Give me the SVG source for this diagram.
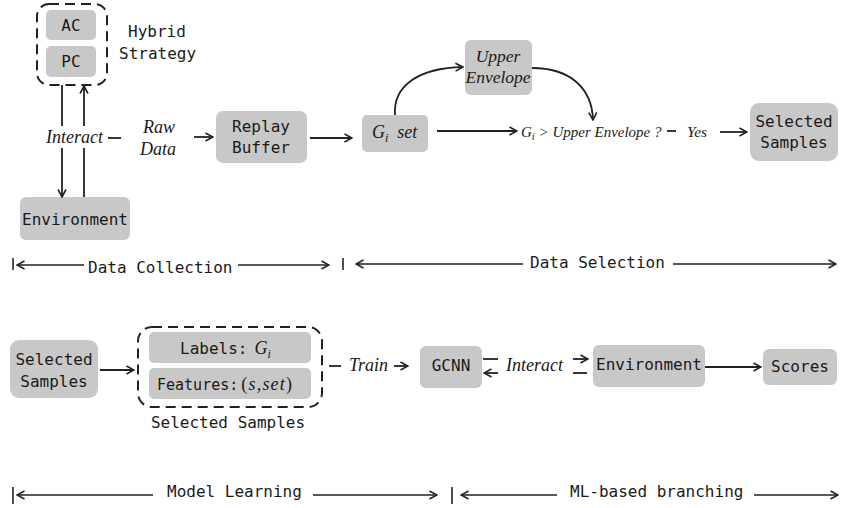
<svg xmlns="http://www.w3.org/2000/svg" width="848" height="508" viewBox="0 0 848 508">
  <defs>
    <marker id="arr" viewBox="0 0 10 10" refX="9" refY="5" markerWidth="10" markerHeight="10" markerUnits="userSpaceOnUse" orient="auto-start-reverse">
      <path d="M1.5,1 L9,5 L1.5,9" fill="none" stroke="#222" stroke-width="1.6" stroke-linejoin="miter"/>
    </marker>
  </defs>
  <style>
    .box { fill: #c8c8c8; }
    .dash { fill: none; stroke: #222; stroke-width: 2; stroke-dasharray: 10 6; }
    .mono { font-family: "DejaVu Sans Mono", "Liberation Mono", monospace; font-size: 16px; fill: #1a1a1a; }
    .it { font-family: "Liberation Serif", "DejaVu Serif", serif; font-style: italic; font-size: 18px; fill: #1a1a1a; }
    .sub { font-size: 12px; }
    .mid { text-anchor: middle; }
    .ln { fill: none; stroke: #222; stroke-width: 1.8; }
    .ar { fill: none; stroke: #222; stroke-width: 1.8; marker-end: url(#arr); }
    .arl { fill: none; stroke: #222; stroke-width: 1.4; marker-start: url(#arr); }
    .arr { fill: none; stroke: #222; stroke-width: 1.4; marker-end: url(#arr); }
    .tick { fill: none; stroke: #222; stroke-width: 1.6; }
  </style>
  <rect width="848" height="508" fill="#ffffff"/>

  <!-- Hybrid strategy group -->
  <g id="hybrid">
    <rect class="dash" x="37" y="4" width="70" height="81" rx="12"/>
    <text class="mono" x="128" y="37">Hybrid</text>
    <text class="mono" x="119" y="59">Strategy</text>
  </g>
  <g id="ac">
    <rect class="box" x="46" y="10" width="50" height="30" rx="5"/>
    <text class="mono mid" x="71" y="31">AC</text>
  </g>
  <g id="pc">
    <rect class="box" x="46" y="46" width="50" height="31" rx="5"/>
    <text class="mono mid" x="71" y="67">PC</text>
  </g>
  <g id="environment-top">
    <rect class="box" x="20" y="197" width="110" height="43" rx="6"/>
    <text class="mono mid" x="75" y="225">Environment</text>
  </g>
  <g id="replay-buffer">
    <rect class="box" x="216" y="111" width="91" height="52" rx="7"/>
    <text class="mono mid" x="261" y="132">Replay</text>
    <text class="mono mid" x="261" y="153">Buffer</text>
  </g>
  <g id="gi-set">
    <rect class="box" x="362" y="115" width="66" height="37" rx="5"/>
    <text class="it" x="372" y="138">G<tspan class="sub" dy="4">i</tspan><tspan dy="-4" dx="9">set</tspan></text>
  </g>
  <g id="upper-envelope">
    <rect class="box" x="465" y="40" width="67" height="55" rx="6"/>
    <text class="it mid" x="498" y="62" style="font-size:17.5px">Upper</text>
    <text class="it mid" x="498" y="83" style="font-size:17.5px">Envelope</text>
  </g>
  <g id="condition">
    <text class="it" x="521" y="137" style="font-size:15px">G<tspan style="font-size:10.5px" dy="3">i</tspan><tspan dy="-3"> &gt; Upper Envelope ?</tspan></text>
  </g>
  <g id="selected-samples-top">
    <rect class="box" x="750" y="103" width="88" height="58" rx="9"/>
    <text class="mono mid" x="794" y="127">Selected</text>
    <text class="mono mid" x="794" y="148">Samples</text>
  </g>

  <!-- Labels on the data collection flow -->
  <g id="labels-top">
    <text class="it" x="46" y="143">Interact</text>
    <text class="it mid" x="159" y="133">Raw</text>
    <text class="it mid" x="158" y="155">Data</text>
    <text class="it" x="687" y="137" style="font-size:15.5px">Yes</text>
  </g>

  <!-- Bottom row nodes -->
  <g id="selected-samples-left">
    <rect class="box" x="10" y="340" width="88" height="58" rx="9"/>
    <text class="mono mid" x="54" y="365">Selected</text>
    <text class="mono mid" x="54" y="387">Samples</text>
  </g>
  <g id="sample-group">
    <rect class="dash" x="138" y="327" width="184" height="80" rx="14"/>
    <text class="mono mid" x="228" y="428">Selected Samples</text>
  </g>
  <g id="labels">
    <rect class="box" x="149" y="332" width="162" height="31" rx="5"/>
    <text class="mono" x="180" y="354">Labels:<tspan class="it" dx="7">G</tspan><tspan class="it sub" dy="4">i</tspan></text>
  </g>
  <g id="features">
    <rect class="box" x="149" y="368" width="162" height="31" rx="5"/>
    <text class="mono" x="157" y="390" style="font-size:15px">Features:<tspan class="it" dx="3" letter-spacing="1.2"><tspan style="font-style:normal">(</tspan>s,set<tspan style="font-style:normal">)</tspan></tspan></text>
  </g>
  <g id="gcnn">
    <rect class="box" x="420" y="346" width="62" height="42" rx="6"/>
    <text class="mono mid" x="451" y="371">GCNN</text>
  </g>
  <g id="environment-bottom">
    <rect class="box" x="593" y="345" width="112" height="42" rx="6"/>
    <text class="mono mid" x="649" y="370">Environment</text>
  </g>
  <g id="scores">
    <rect class="box" x="763" y="349" width="74" height="36" rx="6"/>
    <text class="mono mid" x="800" y="372">Scores</text>
  </g>
  <g id="labels-bottom">
    <text class="it" x="349" y="371">Train</text>
    <text class="it" x="506" y="371">Interact</text>
  </g>

  <!-- Phase captions -->
  <g id="phases">
    <text class="mono" x="88" y="273">Data Collection</text>
    <text class="mono" x="530" y="268">Data Selection</text>
    <text class="mono" x="167" y="497">Model Learning</text>
    <text class="mono" x="570" y="497">ML-based branching</text>
  </g>

  <g id="connectors">
    <!-- policy / environment interaction -->
    <line class="ln" x1="62" y1="85" x2="62" y2="126"/>
    <line class="ar" x1="62" y1="148" x2="62" y2="197"/>
    <line class="ln" x1="84" y1="197" x2="84" y2="148"/>
    <line class="ar" x1="84" y1="126" x2="84" y2="86"/>
    <line class="ln" x1="108" y1="138" x2="121" y2="138"/>
    <line class="ar" x1="194" y1="137" x2="213" y2="137"/>
    <line class="ar" x1="310" y1="138" x2="352" y2="138"/>
    <line class="ar" x1="437" y1="131" x2="517" y2="131"/>
    <path class="ar" d="M395,115 C393,86 418,68 463,67"/>
    <path class="ar" d="M532,68 C570,68 592,88 593,120"/>
    <line class="ln" x1="667" y1="131" x2="676" y2="131"/>
    <line class="ar" x1="720" y1="132" x2="747" y2="132"/>

    <!-- bottom row flow -->
    <line class="ar" x1="100" y1="370" x2="134" y2="370"/>
    <line class="ln" x1="329" y1="366" x2="341" y2="366"/>
    <line class="ar" x1="394" y1="366" x2="408" y2="366"/>
    <line class="ln" x1="483" y1="359" x2="498" y2="359"/>
    <line class="ar" x1="498" y1="373" x2="484" y2="373"/>
    <line class="ar" x1="573" y1="359" x2="588" y2="359"/>
    <line class="ln" x1="573" y1="373" x2="587" y2="373"/>
    <line class="ar" x1="705" y1="367" x2="761" y2="367"/>

    <!-- phase brackets -->
    <line class="tick" x1="13" y1="258" x2="13" y2="270"/>
    <line class="arl" x1="17" y1="265" x2="84" y2="265"/>
    <line class="arr" x1="238" y1="265" x2="329" y2="265"/>
    <line class="tick" x1="343" y1="258" x2="343" y2="270"/>
    <line class="arl" x1="356" y1="264" x2="523" y2="264"/>
    <line class="arr" x1="673" y1="264" x2="836" y2="264"/>

    <line class="tick" x1="13" y1="487" x2="13" y2="504"/>
    <line class="arl" x1="17" y1="495" x2="153" y2="495"/>
    <line class="arr" x1="313" y1="495" x2="437" y2="495"/>
    <line class="tick" x1="452" y1="487" x2="452" y2="504"/>
    <line class="arl" x1="461" y1="495" x2="557" y2="495"/>
    <line class="arr" x1="754" y1="495" x2="838" y2="495"/>
  </g>
</svg>
